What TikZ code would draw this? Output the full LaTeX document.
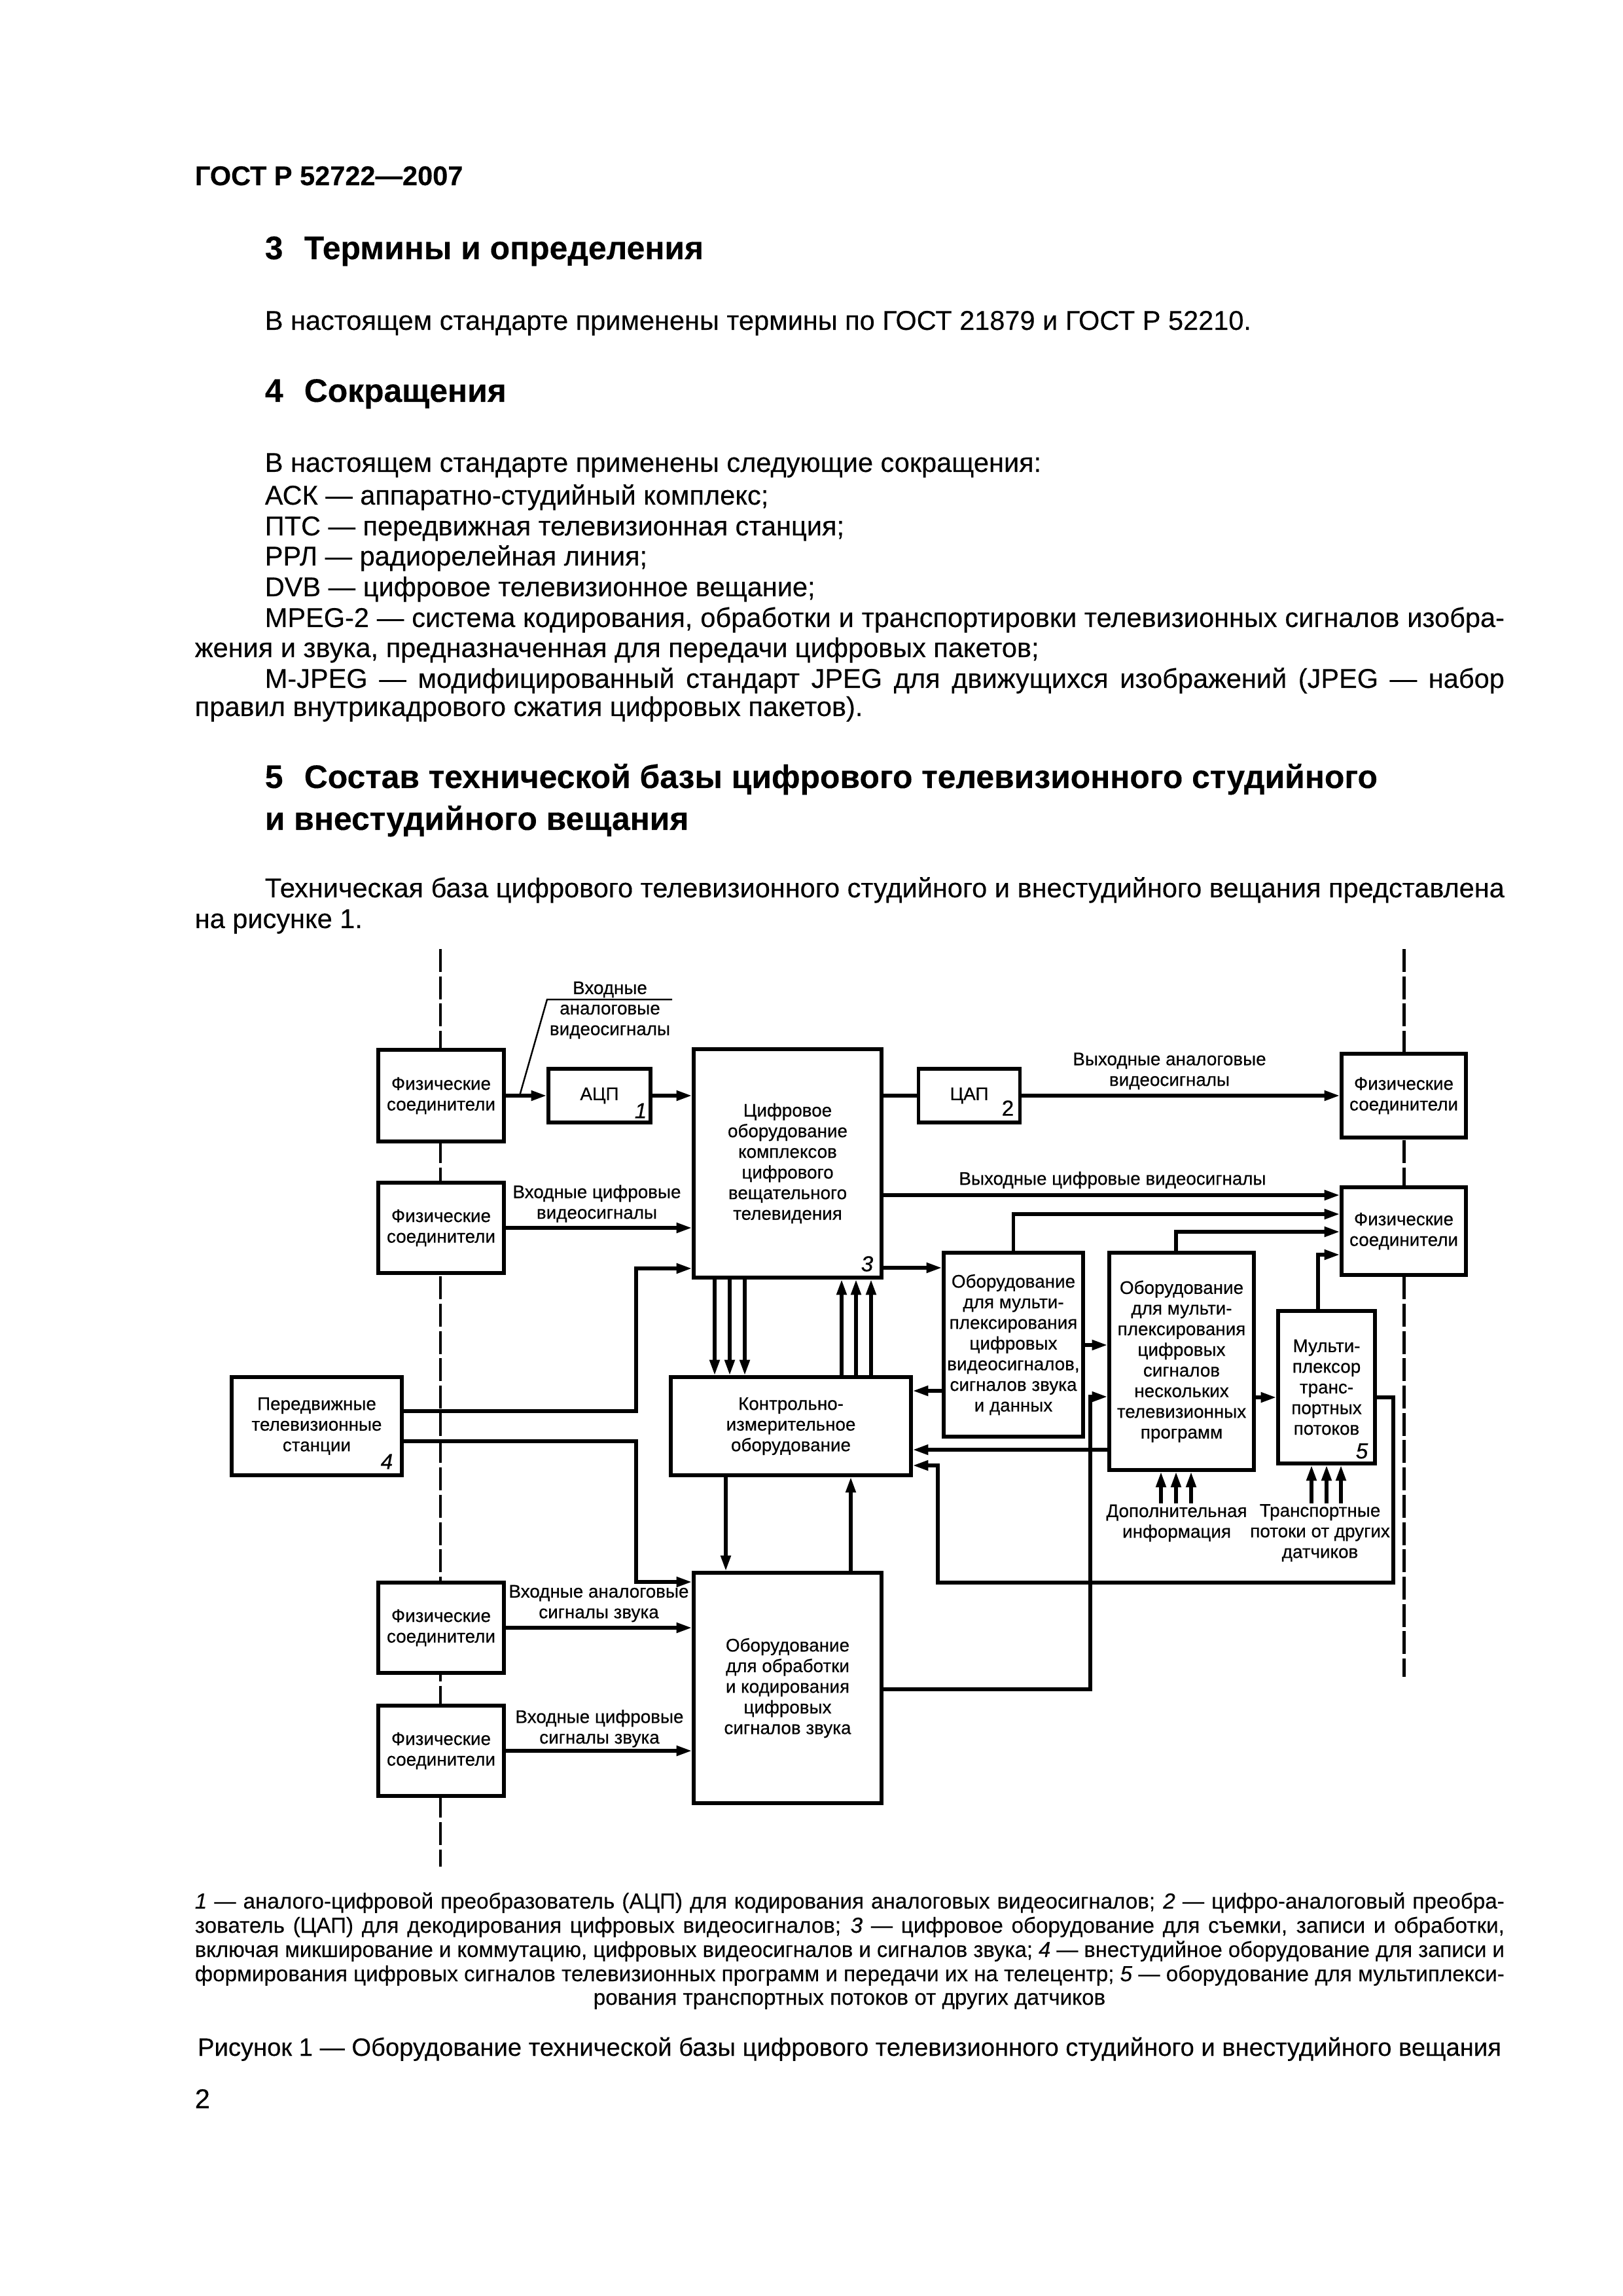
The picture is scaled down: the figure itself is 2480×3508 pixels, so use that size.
\documentclass[tikz,border=0pt]{standalone}
\usepackage{fontspec}
\setmainfont{Liberation Sans}[FakeBold=0.25]
\newfontfamily\dgfam{Liberation Sans}[FakeBold=0.45]
\usepackage{graphicx}
\usetikzlibrary{arrows.meta}
\newlength\pxu
\setlength\pxu{0.0846774mm}
\newcommand\dgfont{\dgfam\fontsize{6.7}{7.6}\selectfont}
\newcommand\numfont{\dgfam\fontsize{8}{9}\selectfont\itshape}
\newcommand\bodyfnt{\fontsize{10}{11.3}\selectfont}
\newcommand\headfnt{\fontsize{12}{14}\selectfont\bfseries}
\newcommand\legfnt{\fontsize{8}{9.3}\selectfont}
\newcommand\titfnt{\fontsize{9.2}{11}\selectfont}
\newsavebox\jbox
\newcommand\jline[2]{\sbox\jbox{#2}\ifdim\wd\jbox>#1\relax\resizebox{#1}{\height}{\usebox\jbox}\else\makebox[#1][s]{#2}\fi}
\tikzset{
  blk/.style={draw, line width=1.3pt, fill=white, inner sep=0pt, align=center, font=\dgfont},
  sz/.style 2 args={minimum width=#1\pxu, minimum height=#2\pxu},
  arr/.style={line width=1.3pt, -{Triangle[length=2.0mm,width=1.25mm]}},
  ln/.style={line width=1.3pt},
  dsh/.style={line width=1.2pt, dash pattern=on 2.96mm off 0.57mm},
  lbl/.style={align=center, inner sep=0pt, font=\dgfont},
  num/.style={inner sep=0pt, font=\numfont},
  bt/.style={anchor=mid west, inner sep=0pt, font=\bodyfnt},
  ht/.style={anchor=mid west, inner sep=0pt, font=\headfnt},
  lt/.style={anchor=mid west, inner sep=0pt, font=\legfnt},
}
\begin{document}
\begin{tikzpicture}[x=0.0846774mm, y=-0.0846774mm]
\fill[white] (0,0) rectangle (2480,3508);
\useasboundingbox (0,0) rectangle (2480,3508);

% ---------- page text ----------
\node[anchor=mid west, inner sep=0pt, font=\fontsize{10}{12}\selectfont\bfseries] (hdr) at (297,272) {ГОСТ Р 52722—2007};
\node[ht] (h3n) at (404,385) {3};
\node[ht] (h3) at (464,385) {Термины и определения};
\node[bt] (t1) at (404,493) {В настоящем стандарте применены термины по ГОСТ 21879 и ГОСТ Р 52210.};
\node[ht] (h4n) at (404,603) {4};
\node[ht] (h4) at (464,603) {Сокращения};
\node[bt] (t2) at (404,710) {В настоящем стандарте применены следующие сокращения:};
\node[bt] (t3) at (404,760) {АСК — аппаратно-студийный комплекс;};
\node[bt] (t4) at (404,807) {ПТС — передвижная телевизионная станция;};
\node[bt] (t5) at (404,853) {РРЛ — радиорелейная линия;};
\node[bt] (t6) at (404,900) {DVB — цифровое телевизионное вещание;};
\node[bt] (t7) at (404,947) {\jline{1894\pxu}{MPEG-2 — система кодирования, обработки и транспортировки телевизионных сигналов изобра-}};
\node[bt] (t8) at (297,993) {жения и звука, предназначенная для передачи цифровых пакетов;};
\node[bt] (t9) at (404,1040) {\jline{1894\pxu}{M-JPEG — модифицированный стандарт JPEG для движущихся изображений (JPEG — набор}};
\node[bt] (t10) at (297,1083) {правил внутрикадрового сжатия цифровых пакетов).};
\node[ht] (h5n) at (404,1193) {5};
\node[ht] (h5) at (464,1193) {Состав технической базы цифрового телевизионного студийного};
\node[ht] (h5b) at (404,1257) {и внестудийного вещания};
\node[bt] (t11) at (404,1360) {\jline{1894\pxu}{Техническая база цифрового телевизионного студийного и внестудийного вещания представлена}};
\node[bt] (t12) at (297,1407) {на рисунке 1.};

% ---------- dashed boundaries ----------
\draw[dsh] (673,1450) -- (673,2852);
\draw[dsh] (2145,1450) -- (2145,2562);

% ---------- blocks ----------
\node[blk, sz={192}{140}] (pl1) at (674,1674) {Физические\\соединители};
\node[blk, sz={192}{138}] (pl2) at (674,1876) {Физические\\соединители};
\node[blk, sz={192}{138}] (pl3) at (674,2487) {Физические\\соединители};
\node[blk, sz={192}{138}] (pl4) at (674,2675) {Физические\\соединители};
\node[blk, sz={190}{128}] (pr1) at (2145,1674) {Физические\\соединители};
\node[blk, sz={190}{134}] (pr2) at (2145,1881) {Физические\\соединители};
\node[blk, sz={156}{82}] (adc) at (916,1674) {АЦП};
\node[blk, sz={155}{82}] (dac) at (1481,1674) {ЦАП};
\node[blk, sz={287}{349}] (main) at (1203.5,1777.5) {Цифровое\\оборудование\\комплексов\\цифрового\\вещательного\\телевидения};
\node[blk, sz={213}{281}] (mux1) at (1548.5,2054.5) {Оборудование\\для мульти-\\плексирования\\цифровых\\видеосигналов,\\сигналов звука\\и данных};
\node[blk, sz={221}{332}] (mux2) at (1805.5,2080) {Оборудование\\для мульти-\\плексирования\\цифровых\\сигналов\\нескольких\\телевизионных\\программ};
\node[blk, sz={148}{233}] (mux3) at (2027,2119.5) {Мульти-\\плексор\\транс-\\портных\\потоков};
\node[blk, sz={367}{150}] (kio) at (1208.5,2179) {Контрольно-\\измерительное\\оборудование};
\node[blk, sz={260}{150}] (pts) at (484,2179) {Передвижные\\телевизионные\\станции};
\node[blk, sz={287}{352}] (aud) at (1203.5,2579) {Оборудование\\для обработки\\и кодирования\\цифровых\\сигналов звука};

% numbers
\node[num] (n1) at (979,1697) {1};
\node[inner sep=0pt, font=\dgfam\fontsize{8}{9}\selectfont] (n2) at (1540,1693) {2};
\node[num] (n3) at (1325,1931) {3};
\node[num] (n4) at (591,2233) {4};
\node[num] (n5) at (2081,2217) {5};

% ---------- connectors ----------
\draw[arr] (pl1) -- (adc);
\draw[arr] (adc) -- (main.west |- adc);
\draw[ln] (main.east |- dac) -- (dac);
\draw[arr] (dac) -- (pr1);
\draw[arr] (pl2) -- (main.west |- pl2);
\draw[arr] (main.east |- 0,1826) -- (pr2.west |- 0,1826);
\draw[arr] (mux1.north) |- (pr2.west |- 0,1855);
\draw[arr] (mux2.north -| 1797,0) |- (pr2.west |- 0,1882);
\draw[arr] (mux3.north -| 2014,0) |- (pr2.west |- 0,1917);
\draw[arr] (main.east |- 0,1937) -- (mux1.west |- 0,1937);
\draw[arr] (mux1.east |- 0,2055) -- (mux2.west |- 0,2055);
\draw[arr] (mux1.west |- 0,2125) -- (kio.east |- 0,2125);
\draw[arr] (mux2.west |- 0,2215) -- (kio.east |- 0,2215);
\draw[arr] (mux2.east |- 0,2135) -- (mux3.west |- 0,2135);
\draw[arr] (mux3.east |- 0,2135) -| (2129,2418) -| (1433,2239) -- (kio.east |- 0,2239);
\draw[arr] (aud.east |- 0,2581) -| (1666,2134) -- (mux2.west |- 0,2134);
\draw[arr] (pts.east |- 0,2156) -| (972,1938) -- (main.west |- 0,1938);
\draw[arr] (pts.east |- 0,2202) -| (972,2417) -- (aud.west |- 0,2417);
\foreach \x in {1092,1115,1138} \draw[arr] (main.south -| \x,0) -- (kio.north -| \x,0);
\foreach \x in {1286,1308,1331} \draw[arr] (kio.north -| \x,0) -- (main.south -| \x,0);
\draw[arr] (kio.south -| 1109,0) -- (aud.north -| 1109,0);
\draw[arr] (aud.north -| 1300,0) -- (kio.south -| 1300,0);
\foreach \x in {1774,1797,1820} {\coordinate (s\x) at (\x,2297); \draw[arr] (s\x) -- (mux2.south -| s\x);}
\foreach \x in {2004,2027,2049} {\coordinate (t\x) at (\x,2297); \draw[arr] (t\x) -- (mux3.south -| t\x);}
\draw[arr] (pl3) -- (aud.west |- pl3);
\draw[arr] (pl4) -- (aud.west |- pl4);

% leader for input analog video label
\coordinate (ld0) at (794,1674);
\coordinate (ld1) at (836,1527);
\coordinate (ld2) at (1027,1527);
\draw[line width=0.6pt] (ld0) -- (ld1) -- (ld2);

% ---------- labels ----------
\node[lbl] (la1) at (932,1512) {Входные};
\node[lbl] (la2) at (932,1561) {аналоговые\\видеосигналы};
\node[lbl] (la3) at (912,1839) {Входные цифровые\\видеосигналы};
\node[lbl] (la4) at (1787,1636.5) {Выходные аналоговые\\видеосигналы};
\node[lbl] (la5) at (1700,1803) {Выходные цифровые видеосигналы};
\node[lbl] (la6) at (915,2450) {Входные аналоговые\\сигналы звука};
\node[lbl] (la7) at (916,2641) {Входные цифровые\\сигналы звука};
\node[lbl] (la8) at (1798,2327) {Дополнительная\\информация};
\node[lbl] (la9) at (2017,2342) {Транспортные\\потоки от других\\датчиков};

% ---------- legend ----------
\node[lt] (g1) at (297,2905) {\jline{2001\pxu}{\textit{1} — аналого-цифровой преобразователь (АЦП) для кодирования аналоговых видеосигналов; \textit{2} — цифро-аналоговый преобра-}};
\node[lt] (g2) at (297,2942) {\jline{2001\pxu}{зователь (ЦАП) для декодирования цифровых видеосигналов; \textit{3} — цифровое оборудование для съемки, записи и обработки,}};
\node[lt] (g3) at (297,2979) {\jline{2001\pxu}{включая микширование и коммутацию, цифровых видеосигналов и сигналов звука; \textit{4} — внестудийное оборудование для записи и}};
\node[lt] (g4) at (297,3016) {\jline{2001\pxu}{формирования цифровых сигналов телевизионных программ и передачи их на телецентр; \textit{5} — оборудование для мультиплекси-}};
\node[anchor=mid, inner sep=0pt, font=\legfnt] (g5) at (1298,3052) {рования транспортных потоков от других датчиков};
\node[anchor=mid, inner sep=0pt, font=\titfnt] (cap) at (1298,3130) {Рисунок 1 — Оборудование технической базы цифрового телевизионного студийного и внестудийного вещания};
\node[bt] (pg) at (297,3210) {2};
\end{tikzpicture}
\end{document}
